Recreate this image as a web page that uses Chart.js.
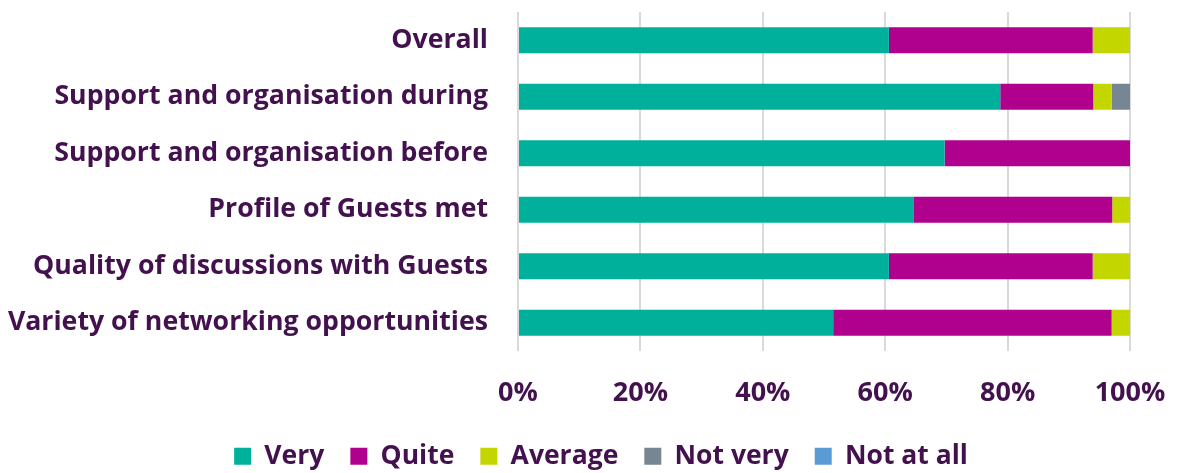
<!DOCTYPE html>
<html>
<head>
<meta charset="utf-8">
<script src="https://cdn.jsdelivr.net/npm/chart.js@4"></script>
<style>
  html, body { margin: 0; padding: 0; background: #fff; }
  #wrap { width: 1178px; height: 473px; }
</style>
</head>
<body>
<div id="wrap"><canvas id="ratingChart"></canvas></div>
<script>
const categories = [
    'Overall',
    'Support and organisation during',
    'Support and organisation before',
    'Profile of Guests met',
    'Quality of discussions with Guests',
    'Variety of networking opportunities'
];
const very     = [60.6, 78.8, 69.7, 64.7, 60.6, 51.5];
const quite    = [33.3, 15.2, 30.3, 32.4, 33.3, 45.5];
const average  = [6.1, 3.0, 0, 2.9, 6.1, 3.0];
const notVery  = [0, 3.0, 0, 0, 0, 0];
const notAtAll = [0, 0, 0, 0, 0, 0];
const xTicks = [0, 20, 40, 60, 80, 100];

const textColor = '#44114f';
const fontFamily = '"Open Sans", sans-serif';

// fixed legend height so the wide item spacing doesn't eat the plot,
// and nudge it right like in the original
const legendTweak = {
    id: 'legendTweak',
    beforeInit(chart) {
        if (!chart.legend) return;
        const fit = chart.legend.fit;
        chart.legend.fit = function() {
            fit.call(this);
            this.height = 56;
        };
    },
    afterLayout(chart) {
        if (chart.legend) chart.legend.left += 72;
    }
};

document.addEventListener('DOMContentLoaded', function() {
    const canvas = document.getElementById('ratingChart');

    const series = [
        { label: 'Very', data: very, color: '#00b09b' },
        { label: 'Quite', data: quite, color: '#b0008e' },
        { label: 'Average', data: average, color: '#c4d600' },
        { label: 'Not very', data: notVery, color: '#768692' },
        { label: 'Not at all', data: notAtAll, color: '#5b9bd5' }
    ];

    new Chart(canvas, {
        type: 'bar',
        data: {
            labels: categories,
            datasets: series.map(s => ({
                label: s.label,
                data: s.data,
                backgroundColor: s.color,
                borderWidth: 0,
                categoryPercentage: 1,
                barPercentage: 0.46
            }))
        },
        options: {
            indexAxis: 'y',
            responsive: true,
            maintainAspectRatio: false,
            animation: false,
            layout: { padding: { top: 12, right: 48, left: 0, bottom: 0 } },
            scales: {
                x: {
                    stacked: true,
                    min: 0,
                    max: 100,
                    afterBuildTicks: axis => { axis.ticks = xTicks.map(v => ({ value: v })); },
                    afterFit: axis => {
                        axis.height = 66;
                        axis.paddingLeft = 0;
                        axis.paddingRight = 0;
                    },
                    grid: { color: '#d9d9d9', lineWidth: 2, drawTicks: false },
                    border: { display: false },
                    ticks: {
                        padding: 26,
                        color: textColor,
                        font: { family: fontFamily, size: 27, weight: 'bold' },
                        callback: v => v + '%'
                    }
                },
                y: {
                    stacked: true,
                    grid: { display: false, drawTicks: false },
                    border: { display: false },
                    afterFit: axis => {
                        axis.width = 518;
                        axis.paddingTop = 0;
                        axis.paddingBottom = 0;
                    },
                    ticks: {
                        padding: 30,
                        color: textColor,
                        font: { family: fontFamily, size: 26.7, weight: 'bold' }
                    }
                }
            },
            plugins: {
                legend: {
                    position: 'bottom',
                    labels: {
                        color: textColor,
                        boxWidth: 17,
                        boxHeight: 17,
                        padding: 26,
                        font: { family: fontFamily, size: 26.5, weight: 'bold' }
                    }
                },
                tooltip: { enabled: false }
            }
        },
        plugins: [legendTweak]
    });
});
</script>
</body>
</html>
